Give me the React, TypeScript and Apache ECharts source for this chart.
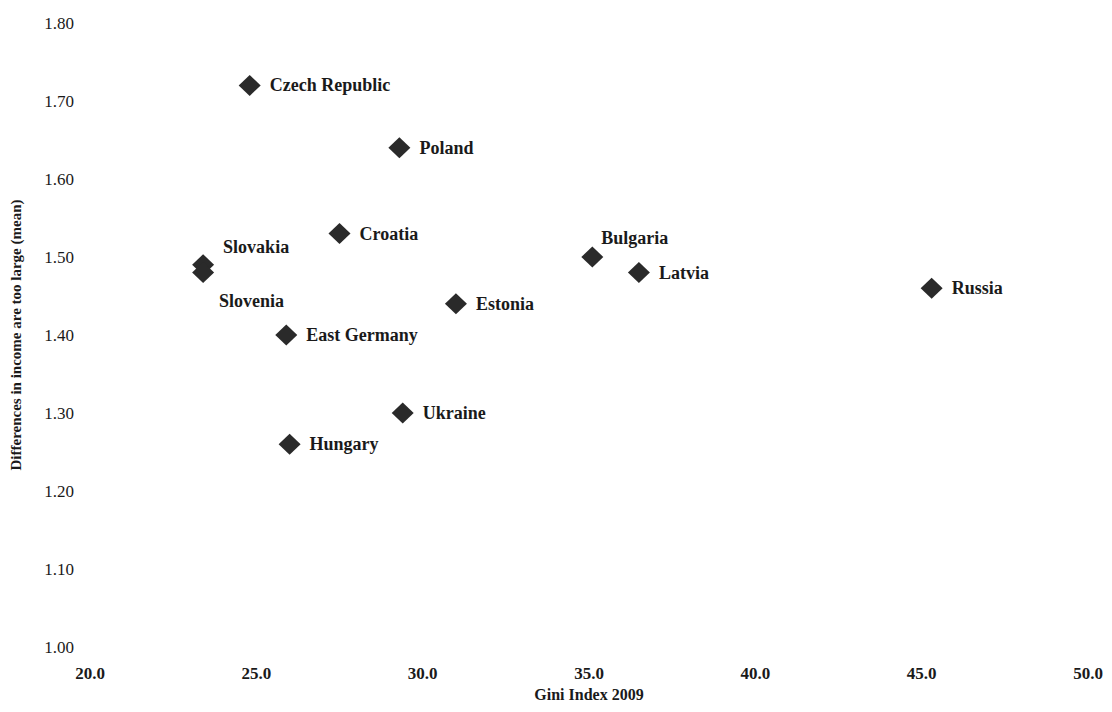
import React, { useEffect, useRef } from "react";
import * as echarts from "echarts";

const countries = [
  "Czech Republic",
  "Poland",
  "Croatia",
  "Slovakia",
  "Slovenia",
  "Bulgaria",
  "Latvia",
  "Estonia",
  "Russia",
  "East Germany",
  "Ukraine",
  "Hungary",
];
const giniIndex = [24.8, 29.3, 27.5, 23.4, 23.4, 35.1, 36.5, 31.0, 45.3, 25.9, 29.4, 26.0];
const incomeDiffMean = [1.72, 1.64, 1.53, 1.49, 1.48, 1.5, 1.48, 1.44, 1.46, 1.4, 1.3, 1.26];

const labelOffsets: Record<string, number[]> = {
  Slovakia: [0, -18],
  Slovenia: [-4, 28],
  Bulgaria: [-11, -19],
};

const FONT = "'Liberation Serif', 'Times New Roman', serif";

export default function App() {
  const ref = useRef<HTMLDivElement>(null);
  useEffect(() => {
    if (!ref.current) return;
    const chart = echarts.init(ref.current, null, { renderer: "svg" });
    const data = countries.map((name, i) => {
      const off = labelOffsets[name];
      return {
        name,
        value: [giniIndex[i], incomeDiffMean[i]],
        label: off ? { offset: off } : undefined,
      };
    });
    chart.setOption({
      animation: false,
      backgroundColor: "#ffffff",
      textStyle: { fontFamily: FONT },
      grid: { left: 84, right: 24, top: 23, bottom: 65 },
      xAxis: {
        type: "value",
        min: 20,
        max: 50,
        interval: 5,
        name: "Gini Index 2009",
        nameLocation: "middle",
        nameGap: 37,
        nameTextStyle: { fontFamily: FONT, fontSize: 16, fontWeight: "bold", color: "#1a1a1a" },
        axisLine: { show: false },
        axisTick: { show: false },
        splitLine: { show: false },
        axisLabel: {
          margin: 18,
          fontFamily: FONT,
          fontSize: 17,
          fontWeight: "bold",
          color: "#1a1a1a",
          formatter: (v: number) => v.toFixed(1),
        },
      },
      yAxis: {
        type: "value",
        min: 1.0,
        max: 1.8,
        interval: 0.1,
        name: "Differences in income are too large (mean)",
        nameLocation: "middle",
        nameGap: 67,
        nameTextStyle: { fontFamily: FONT, fontSize: 15, fontWeight: "bold", color: "#1a1a1a" },
        axisLine: { show: false },
        axisTick: { show: false },
        splitLine: { show: false },
        axisLabel: {
          margin: 16,
          fontFamily: FONT,
          fontSize: 17,
          color: "#1a1a1a",
          formatter: (v: number) => v.toFixed(2),
        },
      },
      series: [
        {
          type: "scatter",
          symbol: "diamond",
          symbolSize: [22, 21],
          itemStyle: { color: "#2a2a2a", opacity: 1 },
          data,
          label: {
            show: true,
            position: "right",
            distance: 9,
            formatter: (p: any) => p.name,
            fontFamily: FONT,
            fontSize: 18,
            fontWeight: "bold",
            color: "#1a1a1a",
            opacity: 1,
          },
        },
      ],
    });
    return () => chart.dispose();
  }, []);
  return (
    <div
      ref={ref}
      style={{ position: "fixed", left: 0, top: 0, width: 1112, height: 712, background: "#fff" }}
    />
  );
}
